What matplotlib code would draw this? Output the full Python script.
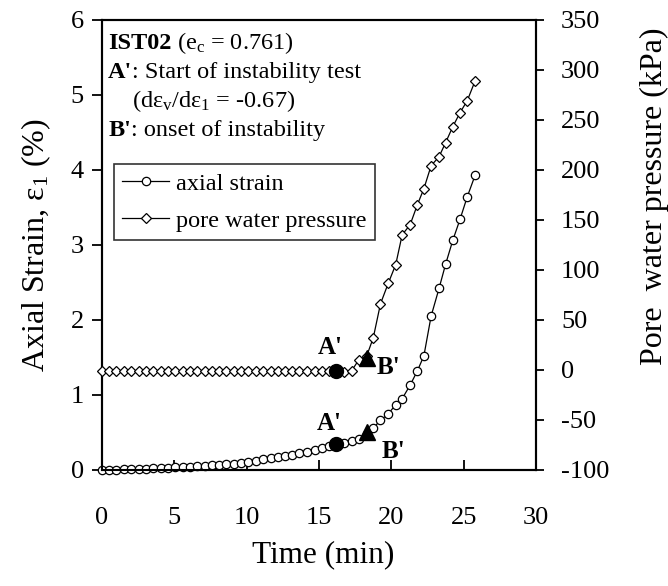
import numpy as np
import matplotlib
matplotlib.use('Agg')
import matplotlib.pyplot as plt
from matplotlib.transforms import offset_copy

plt.rcParams['font.family'] = ['Liberation Serif', 'DejaVu Serif']
plt.rcParams['mathtext.fontset'] = 'custom'
plt.rcParams['mathtext.rm'] = 'Liberation Serif'
plt.rcParams['axes.unicode_minus'] = False

# time (min), same logging for both series
time = [0, 0.5, 1.0, 1.5, 2.0, 2.55, 3.05, 3.55, 4.05, 4.55, 5.05, 5.6, 6.1, 6.6,
        7.1, 7.6, 8.1, 8.6, 9.1, 9.6, 10.1, 10.65, 11.15, 11.65, 12.15, 12.65,
        13.15, 13.65, 14.2, 14.7, 15.2, 15.7, 16.2, 16.7, 17.25, 17.75, 18.3,
        18.75, 19.25, 19.8, 20.3, 20.75, 21.3, 21.8, 22.25, 22.75, 23.3, 23.75,
        24.25, 24.75, 25.25, 25.8]

# axial strain (%)
strain = [0, 0.0, 0.005, 0.008, 0.012, 0.015, 0.018, 0.02, 0.024, 0.028, 0.033,
          0.04, 0.046, 0.052, 0.058, 0.064, 0.07, 0.077, 0.085, 0.097, 0.11,
          0.125, 0.14, 0.155, 0.172, 0.19, 0.205, 0.222, 0.245, 0.27, 0.29,
          0.315, 0.345, 0.36, 0.38, 0.41, 0.48, 0.56, 0.66, 0.75, 0.87, 0.95,
          1.13, 1.32, 1.52, 2.05, 2.42, 2.74, 3.06, 3.34, 3.64, 3.93]

# pore water pressure (kPa)
pwp = [-1, -1, -1, -1, -1, -1, -1, -1, -1, -1, -1, -1, -1, -1, -1, -1, -1, -1,
       -1, -1, -1, -1, -1, -1, -1, -1, -1, -1, -1, -1, -1, -1, -1, -2, -1, 10,
       14, 32, 66, 87, 105, 135, 145, 165, 181, 204, 213, 227, 243, 257, 269, 289]

# A' (start of instability test) and B' (onset of instability)
a_time, a_strain, a_pwp = 16.2, 0.345, -1
b_time, b_strain, b_pwp = 18.35, 0.5, 12

fig = plt.figure(figsize=(6.68, 5.86), dpi=100)
ax = fig.add_axes([0.1527, 0.198, 0.6497, 0.7687])
ax2 = ax.twinx()

l1, = ax.plot(time, strain, color='black', lw=0.9, marker='o', ms=6,
              mfc='white', mec='black', mew=0.9, clip_on=False, zorder=3)
l2, = ax2.plot(time, pwp, color='black', lw=0.9, marker='D', ms=5,
               mfc='white', mec='black', mew=0.9, clip_on=False, zorder=3)

ax.plot(a_time, a_strain, 'o', color='black', ms=10, zorder=5)
ax.plot(b_time, b_strain, '^', color='black', ms=12, zorder=5)
ax2.plot(a_time, a_pwp, 'o', color='black', ms=10, zorder=5)
ax2.plot(b_time, b_pwp, '^', color='black', ms=12, zorder=5)

lab = dict(fontsize=18, fontweight='bold', va='baseline')
ax.text(15.76, 1.545, "A'", ha='center', **lab)
ax.text(18.98, 1.278, "B'", ha='left', **lab)
ax.text(15.7, 0.533, "A'", ha='center', **lab)
ax.text(19.33, 0.156, "B'", ha='left', **lab)

ax.set_xlim(0, 30)
ax.set_ylim(0, 6)
ax2.set_ylim(-100, 350)
ax.set_xticks(np.arange(0, 31, 5))
ax.set_yticks(np.arange(0, 7, 1))
ax2.set_yticks(np.arange(-100, 351, 50))

for a in (ax, ax2):
    for s in a.spines.values():
        s.set_linewidth(1.5)
ax.tick_params(axis='x', direction='in', length=7, width=1.3, labelsize=19, pad=27)
ax.tick_params(axis='y', direction='out', length=7, width=1.3, labelsize=19, pad=6)
ax2.tick_params(axis='y', direction='out', length=6, width=1.3, labelsize=19, pad=12)

ax.set_xlabel('Time (min)', fontsize=22.5)
ax.xaxis.set_label_coords(0.509, -0.155)
ax.set_ylabel('Axial Strain, ε$\\mathregular{_1}$ (%)', fontsize=23)
ax.yaxis.set_label_coords(-0.113, 0.5)
ax2.set_ylabel('Pore  water pressure (kPa)', fontsize=23)
ax2.yaxis.set_label_coords(1.2396, 0.608)

# note block, bold parts followed by plain text
tx = dict(fontsize=17.5, va='baseline', ha='left')
fig.canvas.draw()
rend = fig.canvas.get_renderer()
rows = [(0.014, 0.9345, 'IST02', ' (e$\\mathregular{_c}$ = 0.761)'),
        (0.014, 0.870, "A'", ': Start of instability test'),
        (0.069, 0.806, '', '(dε$\\mathregular{_v}$/dε$\\mathregular{_1}$ = -0.67)'),
        (0.014, 0.7416, "B'", ': onset of instability')]
for x0, y0, bold, rest in rows:
    dx = 0
    if bold:
        t = ax.text(x0, y0, bold, fontweight='bold', transform=ax.transAxes, **tx)
        dx = t.get_window_extent(rend).width * 72 / fig.dpi
    ax.text(x0, y0, rest, transform=offset_copy(ax.transAxes, fig=fig, x=dx, y=0, units='points'), **tx)

leg = ax.legend([l1, l2], ['axial strain', 'pore water pressure'],
                loc='upper left', bbox_to_anchor=(0.0276, 0.679),
                fontsize=17.5, frameon=True, fancybox=False, edgecolor='black',
                handlelength=1.9, handletextpad=0.3, borderpad=0.35,
                labelspacing=0.63, borderaxespad=0)
leg.get_frame().set_linewidth(1.2)

fig.savefig('out.png', dpi=100)
